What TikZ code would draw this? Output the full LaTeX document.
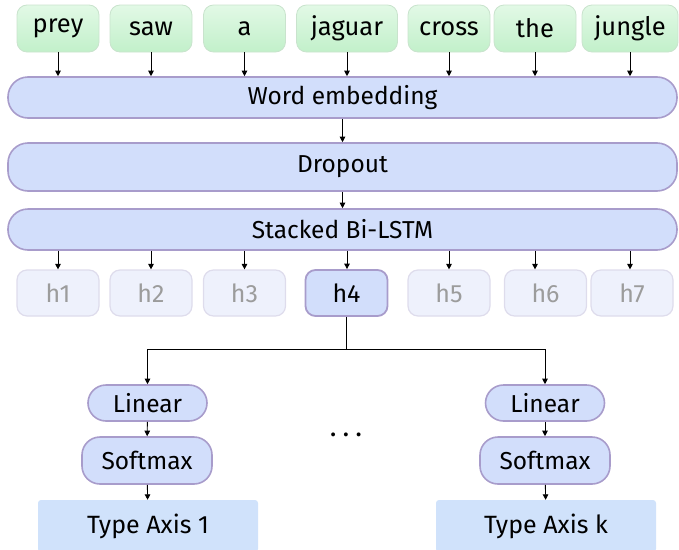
\documentclass[tikz,border=0pt]{standalone}
\usepackage{fontspec}
\setmainfont{Fira Sans}
\usetikzlibrary{arrows.meta}
\definecolor{gfillA}{HTML}{E2F9E6}
\definecolor{gfillB}{HTML}{C2F0CA}
\definecolor{gborder}{HTML}{C9E3CD}
\definecolor{bfill}{HTML}{D2DEFB}
\definecolor{bborder}{HTML}{A89CCB}
\definecolor{hfill}{HTML}{EEF1FC}
\definecolor{hborder}{HTML}{DEDCEC}
\definecolor{htext}{HTML}{9C9C9C}
\definecolor{tfill}{HTML}{D0E2FB}
\tikzset{
  wordbox/.style={rounded corners=10pt, top color=gfillA, bottom color=gfillB, draw=gborder, line width=0.8pt, minimum height=47pt, font=\fontsize{25.5}{28}\selectfont, inner sep=0pt},
  layerbox/.style={rounded corners=20pt, fill=bfill, draw=bborder, line width=1.6pt, minimum width=669pt, font=\fontsize{24.5}{28}\selectfont, inner sep=0pt},
  hbox/.style={rounded corners=10pt, fill=hfill, draw=hborder, line width=1.2pt, minimum width=82pt, minimum height=46pt, font=\fontsize{25}{28}\selectfont, text=htext, inner sep=0pt},
  hsel/.style={rounded corners=10pt, fill=bfill, draw=bborder, line width=1.8pt, minimum width=82pt, minimum height=46pt, font=\fontsize{25}{28}\selectfont, inner sep=0pt},
  smallbox/.style={rounded corners=18pt, fill=bfill, draw=bborder, line width=1.6pt, font=\fontsize{24.5}{28}\selectfont, inner sep=0pt},
  typebox/.style={rounded corners=3pt, fill=tfill, minimum width=220pt, minimum height=52pt, font=\fontsize{25}{28}\selectfont, inner sep=0pt},
  arr/.style={-{Triangle[length=5.5pt,width=5.5pt]}, line width=0.9pt, black},
}
\begin{document}
\begin{tikzpicture}[x=1pt,y=-1pt]
\useasboundingbox (0,0) rectangle (679,549);
% words
\node[wordbox, minimum width=82pt] (w1) at (58,28.5) {prey};
\node[wordbox, minimum width=82pt] (w2) at (151,28.5) {saw};
\node[wordbox, minimum width=82pt] (w3) at (244.5,28.5) {a};
\node[wordbox, minimum width=101pt] (w4) at (347,28.5) {jaguar};
\node[wordbox, minimum width=82pt] (w5) at (449,28.5) {cross};
\node[wordbox, minimum width=82pt] (w6) at (535,28.5) {the};
\node[wordbox, minimum width=96pt] (w7) at (630,28.5) {jungle};
% layers
\node[layerbox, minimum height=41pt] (emb) at (342.5,97.5) {Word embedding};
\node[layerbox, minimum height=48pt] (drop) at (342.5,167) {Dropout};
\node[layerbox, minimum height=41pt] (lstm) at (342.5,229.5) {Stacked Bi-LSTM};
% hidden
\node[hbox] (h1) at (58,293) {h1};
\node[hbox] (h2) at (151,293) {h2};
\node[hbox] (h3) at (244.5,293) {h3};
\node[hsel] (h4) at (346.5,293) {h4};
\node[hbox] (h5) at (449,293) {h5};
\node[hbox] (h6) at (545.5,293) {h6};
\node[hbox] (h7) at (632,293) {h7};
% arrows words -> embedding
\foreach \i in {1,...,7} {
  \draw[arr] (w\i.south) -- (w\i.south |- emb.north) ;
}
\draw[arr] (emb.south) -- (drop.north);
\draw[arr] (drop.south) -- (lstm.north);
\foreach \i in {1,...,7} {
  \draw[arr] (lstm.south -| w\i.south) -- (h\i.north -| w\i.south);
}
% heads
\node[smallbox, minimum width=119pt, minimum height=36pt] (lin1) at (147.5,403) {Linear};
\node[smallbox, minimum width=130pt, minimum height=47pt] (soft1) at (147,460.5) {Softmax};
\node[typebox] (t1) at (148,526) {Type Axis 1};
\node[smallbox, minimum width=119pt, minimum height=36pt] (lin2) at (545,403) {Linear};
\node[smallbox, minimum width=130pt, minimum height=47pt] (soft2) at (545,460.5) {Softmax};
\node[typebox] (t2) at (546,526) {Type Axis k};
\node[font=\fontsize{28}{28}\selectfont, anchor=base, inner sep=0pt] (dots) at (346,436) {.\hspace{6pt}.\hspace{6pt}.};
\coordinate (split) at (346.5,349);
\draw[line width=1pt] (h4.south) -- (split);
\draw[arr] (split) -| (lin1.north);
\draw[arr] (split) -| (lin2.north);
\draw[arr] (lin1) -- (soft1);
\draw[arr] (soft1) -- (t1);
\draw[arr] (lin2) -- (soft2);
\draw[arr] (soft2) -- (t2);
\end{tikzpicture}
\end{document}
